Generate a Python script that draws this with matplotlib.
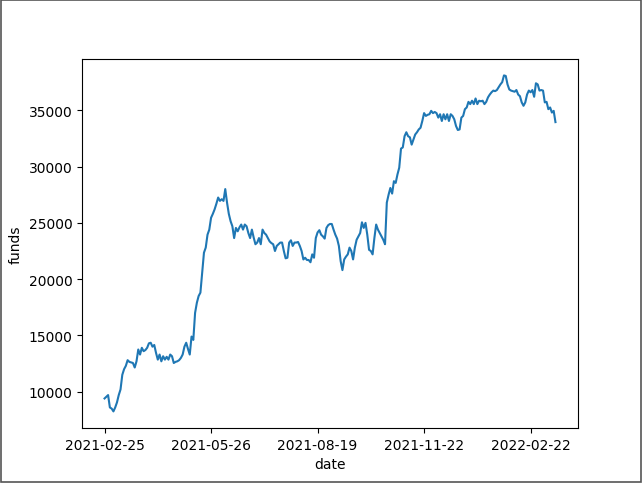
import matplotlib
matplotlib.use("Agg")
import matplotlib.pyplot as plt
from matplotlib.patches import Rectangle

tick_labels = ["2021-02-25", "2021-05-26", "2021-08-19", "2021-11-22", "2022-02-22"]
tick_step = 60

funds = [
    9400, 9550, 9700, 8600, 8500, 8250, 8600, 9050, 9700, 10200,
    11500, 12000, 12300, 12800, 12650, 12600, 12550, 12150, 12700, 13750,
    13300, 13900, 13600, 13700, 13900, 14300, 14350, 14000, 14150, 13450,
    12850, 13300, 12700, 13150, 12850, 13100, 12850, 13300, 13150, 12550,
    12650, 12700, 12800, 13000, 13300, 14000, 14350, 13800, 13300, 14900,
    14600, 17000, 17900, 18500, 18800, 20550, 22350, 22800, 23950, 24400,
    25450, 25800, 26200, 26700, 27250, 26950, 27100, 26950, 28000, 26800,
    25800, 25150, 24700, 23650, 24550, 24250, 24600, 24850, 24400, 24850,
    24700, 24100, 23650, 24400, 23700, 23100, 23250, 23650, 23100, 24400,
    24100, 23950, 23650, 23350, 23200, 23100, 22500, 22950, 23100, 23250,
    23250, 22500, 21850, 21900, 23250, 23450, 22950, 23250, 23250, 23300,
    22950, 22500, 21750, 21900, 21700, 21700, 21500, 22200, 21900, 23650,
    24150, 24350, 23950, 23800, 23600, 24550, 24800, 24900, 24900, 24400,
    23950, 23600, 22950, 21600, 20800, 21750, 22000, 22200, 22800, 22500,
    21750, 22800, 23500, 23800, 24100, 25050, 24550, 25000, 23950, 22600,
    22500, 22200, 23650, 24850, 24400, 24100, 23800, 23500, 23100, 26800,
    27500, 28100, 27600, 28700, 28550, 29300, 29900, 31600, 31700, 32700,
    33050, 32700, 32600, 31950, 32400, 32850, 33050, 33300, 33450, 34050,
    34750, 34500, 34600, 34650, 34950, 34750, 34850, 34750, 34350, 34650,
    34050, 34650, 34200, 34650, 34050, 34650, 34500, 34200, 33600, 33250,
    33300, 34350, 34500, 35100, 35250, 35750, 35550, 35850, 35550, 36050,
    35550, 35850, 35800, 35850, 35550, 35750, 36150, 36400, 36600, 36750,
    36700, 36800, 37050, 37300, 37500, 38100, 38050, 37300, 36850, 36750,
    36700, 36650, 36800, 36400, 36250, 35700, 35400, 35700, 36400, 36750,
    36600, 36800, 36200, 37400, 37300, 36750, 36800, 36750, 35700, 35750,
    35100, 35250, 34800, 34950, 33950,
]

W, H = 644, 485
fig = plt.figure(figsize=(W / 100, H / 100), dpi=100)
ax = fig.add_axes([82 / W, (H - 429.2) / H, 496 / W, (429.2 - 59.6) / H])

x = list(range(len(funds)))
ax.plot(x, funds)
ax.set_xticks(list(range(0, tick_step * len(tick_labels), tick_step)))
ax.set_xticklabels(tick_labels)
ax.set_xlabel("date")
ax.set_ylabel("funds")

border = Rectangle((1 / W, 2 / H), 640 / W, 482 / H, transform=fig.transFigure,
                   fill=False, edgecolor="#555555", linewidth=1.2)
fig.patches.append(border)

fig.savefig("out.png", dpi=100)
